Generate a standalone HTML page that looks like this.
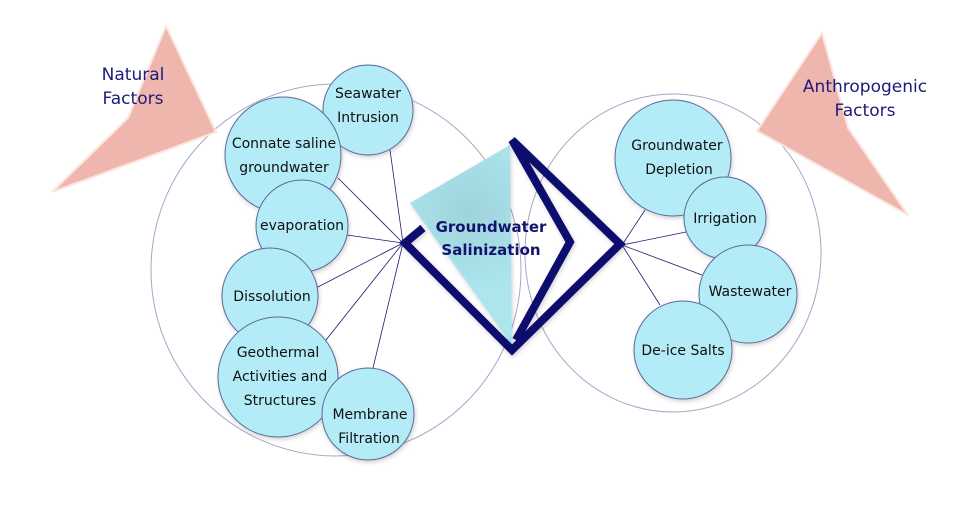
<!DOCTYPE html>
<html><head><meta charset="utf-8"><style>
html,body{margin:0;padding:0;background:#fff;}
svg text{font-family:"DejaVu Sans","Liberation Sans",sans-serif;}
</style></head><body>
<svg width="960" height="504" viewBox="0 0 960 504" xmlns="http://www.w3.org/2000/svg">
<defs>
<radialGradient id="cy" gradientUnits="userSpaceOnUse" cx="470" cy="210" r="80"><stop offset="0" stop-color="#9fd3dc"/><stop offset="1" stop-color="#ace5ed"/></radialGradient>
<filter id="sh" x="-20%" y="-20%" width="140%" height="140%"><feDropShadow dx="1" dy="2" stdDeviation="2" flood-color="#000" flood-opacity="0.18"/></filter>
</defs>
<ellipse cx="336" cy="270" rx="185" ry="186" fill="none" stroke="#a6a6c8" stroke-width="1"/>
<ellipse cx="673" cy="253" rx="148" ry="159" fill="none" stroke="#a6a6c8" stroke-width="1"/>
<polygon points="166,26 216,132 52,192 128,118" fill="#efb6ae" stroke="#fbe6de" stroke-width="2"/>
<polygon points="822,33 848,128 908,215 757,131" fill="#efb6ae" stroke="#fbe6de" stroke-width="2"/>
<text x="133" y="80" font-size="17" fill="#1c1c78" text-anchor="middle">Natural</text>
<text x="133" y="104" font-size="17" fill="#1c1c78" text-anchor="middle">Factors</text>
<text x="865" y="92" font-size="17" fill="#1c1c78" text-anchor="middle">Anthropogenic</text>
<text x="865" y="116" font-size="17" fill="#1c1c78" text-anchor="middle">Factors</text>
<g stroke="#1c1c6e" stroke-width="0.8">
<line x1="403" y1="243" x2="390" y2="150"/>
<line x1="403" y1="243" x2="338" y2="178"/>
<line x1="403" y1="243" x2="347" y2="235"/>
<line x1="403" y1="243" x2="316" y2="288"/>
<line x1="403" y1="243" x2="326" y2="340"/>
<line x1="403" y1="243" x2="373" y2="368"/>
<line x1="622" y1="245" x2="645" y2="210"/>
<line x1="622" y1="245" x2="686" y2="232"/>
<line x1="622" y1="245" x2="702" y2="275"/>
<line x1="622" y1="245" x2="660" y2="305"/>
</g>
<g fill="#b3ecf7" stroke="#5a6a9a" stroke-width="1" filter="url(#sh)">
<circle cx="368" cy="110" r="45"/>
<circle cx="283" cy="155" r="58"/>
<circle cx="302" cy="226" r="46"/>
<circle cx="270" cy="296" r="48"/>
<circle cx="278" cy="377" r="60"/>
<circle cx="368" cy="414" r="46"/>
<circle cx="673" cy="158" r="58"/>
<circle cx="725" cy="218" r="41"/>
<circle cx="748" cy="294" r="49"/>
<circle cx="683" cy="350" r="49"/>
</g>
<g font-size="14" fill="#111" text-anchor="middle">
<text x="368" y="98">Seawater</text><text x="368" y="122">Intrusion</text>
<text x="284" y="148">Connate saline</text><text x="284" y="172">groundwater</text>
<text x="302" y="230">evaporation</text>
<text x="272" y="301">Dissolution</text>
<text x="278" y="357">Geothermal</text><text x="280" y="381">Activities and</text><text x="280" y="405">Structures</text>
<text x="370" y="419">Membrane</text><text x="369" y="443">Filtration</text>
<text x="677" y="150">Groundwater</text><text x="679" y="174">Depletion</text>
<text x="725" y="223">Irrigation</text>
<text x="750" y="296">Wastewater</text>
<text x="683" y="355">De-ice Salts</text>
</g>
<polygon points="410,203 510,145 512,345" fill="url(#cy)" filter="url(#sh)"/>
<g fill="none" stroke="#0c0c6e" stroke-width="8" stroke-linejoin="miter" filter="url(#sh)">
<polyline points="423,228 405,243 512,350 620,244 512,140 570,242 516,340"/>
</g>
<text x="491" y="232" font-size="15" font-weight="bold" fill="#13136e" text-anchor="middle">Groundwater</text>
<text x="491" y="255" font-size="15" font-weight="bold" fill="#13136e" text-anchor="middle">Salinization</text>
</svg>
</body></html>
